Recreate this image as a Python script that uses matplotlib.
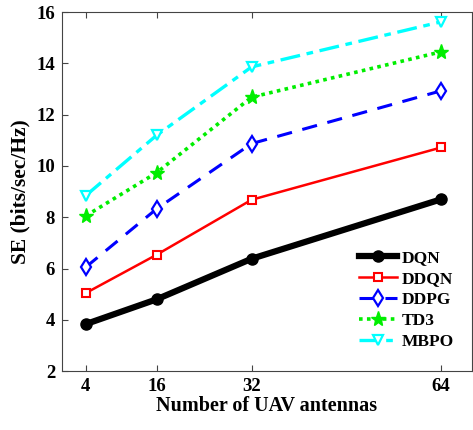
import matplotlib
matplotlib.use('Agg')
import matplotlib.pyplot as plt

# --- Dados ---
antenas = [4, 16, 32, 64]
se_dqn = [3.83, 4.80, 6.38, 8.70]
se_ddqn = [5.04, 6.54, 8.68, 10.72]
se_ddpg = [6.05, 8.33, 10.87, 12.93]
se_td3 = [8.05, 9.74, 12.68, 14.45]
se_mbpo = [8.84, 11.20, 13.86, 15.62]

plt.rcParams['font.family'] = ['Liberation Serif', 'DejaVu Serif']
plt.rcParams['font.weight'] = 'bold'

fig = plt.figure(figsize=(4.73, 4.30), dpi=100)
ax = fig.add_axes([0.131, 0.137, 0.867, 0.835])

ax.plot(antenas, se_dqn, color='black', linestyle='-', linewidth=4.5,
        marker='o', markersize=8, markerfacecolor='black', label='DQN')
ax.plot(antenas, se_ddqn, color='red', linestyle='-', linewidth=1.8,
        marker='s', markersize=5.5, markerfacecolor='white', markeredgewidth=1.5, label='DDQN')
ax.plot(antenas, se_ddpg, color='blue', linestyle=(0, (5, 3.5)), linewidth=2.2,
        marker='d', markersize=8, markerfacecolor='white', markeredgewidth=1.6, label='DDPG')
ax.plot(antenas, se_td3, color='#00ee00', linestyle=(0, (1, 1.2)), linewidth=2.6,
        marker='*', markersize=11, markerfacecolor='#00ee00', label='TD3')
ax.plot(antenas, se_mbpo, color='cyan', linestyle=(0, (6, 2, 2, 2)), linewidth=2.4,
        marker='v', markersize=7.5, markerfacecolor='white', markeredgewidth=1.6, label='MBPO')

ax.set_xlim(0, 69.2)
ax.set_ylim(2, 16)
ax.set_xticks(antenas)
ax.set_yticks([2, 4, 6, 8, 10, 12, 14, 16])
ax.tick_params(direction='in', top=True, right=False, labelsize=13.5, length=4,
               color='#444444', pad=5)
for lab in ax.get_xticklabels() + ax.get_yticklabels():
    lab.set_fontweight('bold')
for s in ax.spines.values():
    s.set_color('#444444')

ax.set_xlabel('Number of UAV antennas', fontsize=14.5, fontweight='bold', labelpad=1)
ax.set_ylabel('SE (bits/sec/Hz)', fontsize=15.5, fontweight='bold', labelpad=4)

ax.legend(loc='lower right', frameon=False, handlelength=2.2,
          labelspacing=0.28, handletextpad=0.3, bbox_to_anchor=(0.995, 0.015),
          prop={'weight': 'bold', 'size': 12.5})

fig.savefig('out.png', dpi=100)
